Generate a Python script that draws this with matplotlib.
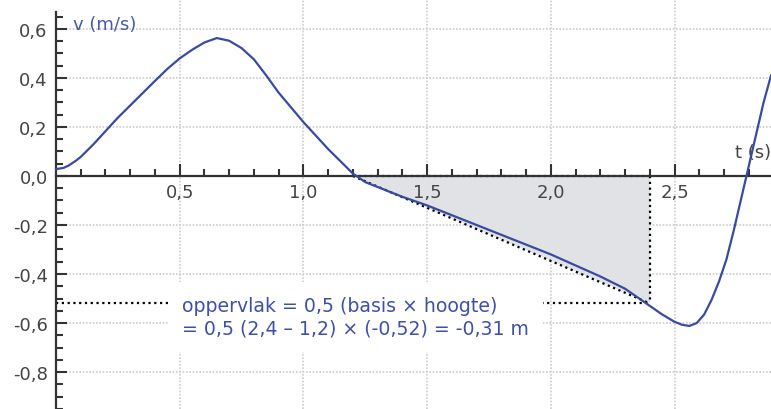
import numpy as np
import matplotlib
matplotlib.use("Agg")
import matplotlib.pyplot as plt
from matplotlib.ticker import FixedLocator, FuncFormatter

# ---- data ----
t = [0.00, 0.03, 0.05, 0.08, 0.10, 0.15, 0.20, 0.25, 0.30, 0.35, 0.40, 0.45,
     0.50, 0.55, 0.60, 0.65, 0.70, 0.75, 0.80, 0.85, 0.90, 0.95, 1.00, 1.05,
     1.10, 1.15, 1.20, 1.25, 1.30, 1.40, 1.50, 1.60, 1.70, 1.80, 1.90, 2.00,
     2.10, 2.20, 2.30, 2.40, 2.45, 2.50, 2.53, 2.56, 2.59, 2.62, 2.65, 2.68,
     2.71, 2.74, 2.77, 2.80, 2.83, 2.86, 2.89]
v = [0.028, 0.033, 0.042, 0.062, 0.078, 0.128, 0.183, 0.238, 0.288, 0.338, 0.388, 0.437,
     0.48, 0.515, 0.545, 0.563, 0.552, 0.522, 0.476, 0.41, 0.34, 0.28, 0.22, 0.165,
     0.11, 0.06, 0.01, -0.025, -0.045, -0.085, -0.12, -0.16, -0.20, -0.24, -0.28, -0.32,
     -0.365, -0.41, -0.46, -0.53, -0.565, -0.595, -0.607, -0.612, -0.600, -0.565, -0.505, -0.43,
     -0.34, -0.22, -0.09, 0.04, 0.17, 0.30, 0.41]

t_start, t_end = 1.2, 2.4          # basis
v_height = -0.52                    # hoogte
tri_t = [t_start, t_end, t_end]
tri_v = [0.0, 0.0, v_height]

x_major = [0.5, 1.0, 1.5, 2.0, 2.5]
x_minor = [0.1, 0.2, 0.3, 0.4, 0.6, 0.7, 0.8, 0.9, 1.1, 1.2, 1.3, 1.4, 1.6, 1.7,
           1.8, 1.9, 2.1, 2.2, 2.3, 2.4, 2.6, 2.7, 2.8]
y_major = [-0.8, -0.6, -0.4, -0.2, 0.0, 0.2, 0.4, 0.6]
y_minor = list(np.round(np.arange(-0.95, 0.66, 0.05), 2))

label_v = "v (m/s)"
label_t = "t (s)"
annot = "oppervlak = 0,5 (basis \u00d7 hoogte)\n= 0,5 (2,4 \u2013 1,2) \u00d7 (-0,52) = -0,31 m"

# ---- style ----
plt.rcParams['font.family'] = ['DejaVu Sans']
curve_col = '#3a4a9e'
text_blue = '#3f51a6'
axis_col = '#333333'
tick_txt = '#444444'
grid_col = '#cccccc'

fig = plt.figure(figsize=(7.71, 4.10), dpi=100)
ax = fig.add_axes([0, 0, 1, 1])
ax.set_xlim(-0.2264, 2.890)
ax.set_ylim(-0.951, 0.7224)

# grid
for gx in x_major:
    ax.axvline(gx, color=grid_col, lw=1.2, ls=(0, (1, 1)), zorder=0)
for gy in y_major:
    if gy != 0:
        ax.axhline(gy, xmin=0.0727, color=grid_col, lw=1.2, ls=(0, (1, 1)), zorder=0)

# shaded triangle
ax.fill(tri_t, tri_v, color='#e1e2e5', lw=0, zorder=1)
dot = dict(color='black', lw=1.6, ls=(0, (1, 1.6)), zorder=3)
ax.plot([tri_t[0], tri_t[2]], [tri_v[0], tri_v[2]], **dot)
ax.plot([tri_t[1], tri_t[2]], [tri_v[1], tri_v[2]], **dot)
ax.plot([tri_t[0], tri_t[1]], [tri_v[0], tri_v[1]], **dot)
ax.plot([0, t_end], [v_height, v_height], **dot)

# curve
ax.plot(t, v, color=curve_col, lw=1.6, zorder=5)

# annotation with white box
ax.text(0.51, -0.575, annot, color=text_blue, fontsize=13.6, ha='left', va='center',
        linespacing=1.2, zorder=6,
        bbox=dict(boxstyle='square,pad=0.75', fc='white', ec='none'))

ax.text(0.069, 0.62, label_v, color='#4a5aa8', fontsize=13, ha='left', va='center', zorder=6)
ax.text(2.745, 0.098, label_t, color=tick_txt, fontsize=13, ha='left', va='center', zorder=4)

# spines
for s in ['top', 'right']:
    ax.spines[s].set_visible(False)
ax.spines['left'].set_position(('data', 0))
ax.spines['bottom'].set_position(('data', 0))
ax.spines['left'].set_bounds(-0.951, 0.67)
ax.spines['bottom'].set_bounds(0, 2.89)
for s in ['left', 'bottom']:
    ax.spines[s].set_color(axis_col)
    ax.spines[s].set_linewidth(1.6)
    ax.spines[s].set_zorder(4)

ax.xaxis.set_major_locator(FixedLocator(x_major))
ax.xaxis.set_minor_locator(FixedLocator(x_minor))
ax.yaxis.set_major_locator(FixedLocator(y_major))
ax.yaxis.set_minor_locator(FixedLocator(y_minor))
fmt = FuncFormatter(lambda x, p: f"{x:.1f}".replace('.', ','))
ax.xaxis.set_major_formatter(fmt)
ax.yaxis.set_major_formatter(fmt)

ax.tick_params(which='major', direction='in', length=8, width=1.5, color=axis_col,
               labelsize=13, labelcolor=tick_txt, pad=6)
ax.tick_params(which='minor', direction='in', length=5, width=1.5, color=axis_col)
ax.tick_params(axis='x', which='major', length=9, pad=5)

fig.savefig('out.png', dpi=100)
